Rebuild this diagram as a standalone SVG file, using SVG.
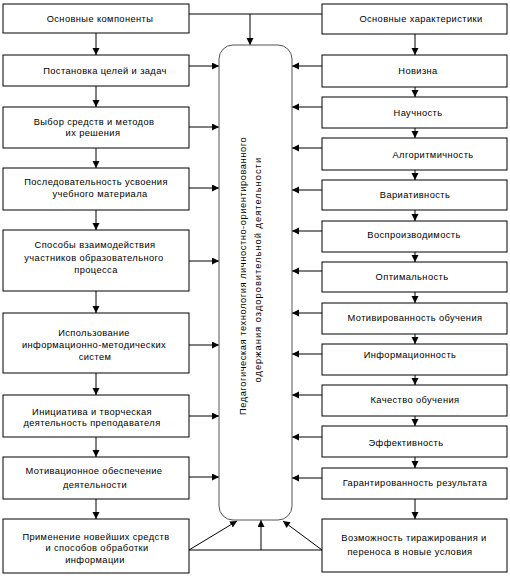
<svg xmlns="http://www.w3.org/2000/svg" width="510" height="585" viewBox="0 0 510 585">
<defs>
<marker id="ah" markerUnits="userSpaceOnUse" markerWidth="8" markerHeight="8" refX="7" refY="3.5" orient="auto">
<path d="M0,0 L7,3.5 L0,7 z" fill="#000"/>
</marker>
</defs>
<style>
rect.b{fill:#fff;stroke:#000;stroke-width:1}
text{font-family:"Liberation Sans",Arial,sans-serif;font-size:9.3px;letter-spacing:0.4px;fill:#000;text-anchor:middle}
.c line,.c path{stroke:#000;stroke-width:1;fill:none}
.a{marker-end:url(#ah)}
.g{stroke:#555 !important}
</style>
<rect width="510" height="585" fill="#fff"/>
<g id="connectors" class="c">
<path d="M189,14 H322"/>
<line class="a" x1="250" y1="14" x2="250" y2="45"/>
<line class="a" x1="96" y1="33" x2="96" y2="55"/>
<line class="a" x1="96" y1="86" x2="96" y2="107"/>
<line class="a" x1="96" y1="148" x2="96" y2="168"/>
<line class="a" x1="96" y1="210" x2="96" y2="230"/>
<line class="a" x1="96" y1="291" x2="96" y2="313"/>
<line class="a" x1="96" y1="373" x2="96" y2="395"/>
<line class="a" x1="96" y1="437" x2="96" y2="457"/>
<line class="a" x1="96" y1="499" x2="96" y2="519"/>
<line class="a" x1="189" y1="66" x2="219" y2="66"/>
<line class="a" x1="189" y1="127" x2="219" y2="127"/>
<line class="a" x1="189" y1="188" x2="219" y2="188"/>
<line class="a" x1="189" y1="261" x2="219" y2="261"/>
<line class="a" x1="189" y1="345" x2="219" y2="345"/>
<line class="a" x1="189" y1="416" x2="219" y2="416"/>
<line class="a" x1="189" y1="477" x2="219" y2="477"/>
<line class="a" x1="415" y1="34" x2="415" y2="55"/>
<line class="a" x1="415" y1="87" x2="415" y2="97"/>
<line class="a" x1="415" y1="128" x2="415" y2="138"/>
<line class="a" x1="415" y1="170" x2="415" y2="180"/>
<line class="a" x1="415" y1="210" x2="415" y2="221"/>
<line class="a" x1="415" y1="252" x2="415" y2="262"/>
<line class="a" x1="415" y1="292" x2="415" y2="303"/>
<line class="a" x1="415" y1="334" x2="415" y2="344"/>
<line class="a" x1="415" y1="375" x2="415" y2="385"/>
<line class="a" x1="415" y1="416" x2="415" y2="426"/>
<line class="a" x1="415" y1="457" x2="415" y2="468"/>
<line class="a" x1="415" y1="499" x2="415" y2="519"/>
<line class="a" x1="322" y1="66" x2="292" y2="66"/>
<line class="a" x1="322" y1="107" x2="292" y2="107"/>
<line class="a" x1="322" y1="148" x2="292" y2="148"/>
<line class="a" x1="322" y1="190" x2="292" y2="190"/>
<line class="a" x1="322" y1="231" x2="292" y2="231"/>
<line class="a" x1="322" y1="271" x2="292" y2="271"/>
<line class="a" x1="322" y1="313" x2="292" y2="313"/>
<line class="a" x1="322" y1="354" x2="292" y2="354"/>
<line class="a" x1="322" y1="395" x2="292" y2="395"/>
<line class="a" x1="322" y1="437" x2="292" y2="437"/>
<line class="a" x1="322" y1="478" x2="292" y2="478"/>
<path d="M189,550 H322"/>
<line class="a" x1="261" y1="550" x2="261" y2="520"/>
<line class="a" x1="189" y1="550" x2="237" y2="521"/>
<line class="a" x1="322" y1="550" x2="283" y2="521"/>
</g>
<g id="center">
<rect x="219" y="45" width="73" height="475" rx="14" fill="#fff" stroke="#555" stroke-width="1"/>
<text transform="translate(245.5,276) rotate(-90)" textLength="278" lengthAdjust="spacing">Педагогическая технология личностно-ориентированного</text>
<text transform="translate(261,270) rotate(-90)" textLength="225" lengthAdjust="spacing">одержания оздоровительной деятельности</text>
</g>
<g id="L1"><rect class="b" x="3" y="4" width="186" height="29"/><text x="100" y="22">Основные  компоненты</text></g>
<g id="L2"><rect class="b" x="3" y="55" width="186" height="31"/><text x="105" y="74">Постановка  целей  и задач</text></g>
<g id="L3"><rect class="b" x="3" y="107" width="186" height="41"/><text x="94" y="125">Выбор  средств  и методов</text><text x="93" y="136">их  решения</text></g>
<g id="L4"><rect class="b" x="3" y="168" width="186" height="42"/><text x="96" y="185">Последовательность усвоения</text><text x="100" y="197">учебного материала</text></g>
<g id="L5"><rect class="b" x="3" y="230" width="186" height="61"/><text x="95" y="248">Способы  взаимодействия</text><text x="94" y="261">участников  образовательного</text><text x="96" y="273">процесса</text></g>
<g id="L6"><rect class="b" x="3" y="313" width="186" height="60"/><text x="94" y="336">Использование</text><text x="94" y="348">информационно-методических</text><text x="95" y="360">систем</text></g>
<g id="L7"><rect class="b" x="3" y="395" width="186" height="42"/><text x="92" y="415">Инициатива  и творческая</text><text x="92" y="426">деятельность  преподавателя</text></g>
<g id="L8"><rect class="b" x="3" y="457" width="186" height="42"/><text x="94" y="474">Мотивационное  обеспечение</text><text x="95" y="488">деятельности</text></g>
<g id="L9"><rect class="b" x="3" y="519" width="186" height="54"/><text x="96" y="540">Применение  новейших  средств</text><text x="97" y="551">и способов  обработки</text><text x="95" y="563">информации</text></g>
<g id="R1"><rect class="b" x="322" y="4" width="185" height="30"/><text x="421" y="22">Основные  характеристики</text></g>
<g id="R2"><rect class="b" x="322" y="55" width="185" height="32"/><text x="418" y="74">Новизна</text></g>
<g id="R3"><rect class="b" x="322" y="97" width="185" height="31"/><text x="418" y="116">Научность</text></g>
<g id="R4"><rect class="b" x="322" y="138" width="185" height="32"/><text x="433" y="158">Алгоритмичность</text></g>
<g id="R5"><rect class="b" x="322" y="180" width="185" height="30"/><text x="415" y="198">Вариативность</text></g>
<g id="R6"><rect class="b" x="322" y="221" width="185" height="31"/><text x="414" y="238">Воспроизводимость</text></g>
<g id="R7"><rect class="b" x="322" y="262" width="185" height="30"/><text x="412" y="280">Оптимальность</text></g>
<g id="R8"><rect class="b" x="322" y="303" width="185" height="31"/><text x="415" y="321">Мотивированность обучения</text></g>
<g id="R9"><rect class="b" x="322" y="344" width="185" height="31"/><text x="410" y="358">Информационность</text></g>
<g id="R10"><rect class="b" x="322" y="385" width="185" height="31"/><text x="415" y="403">Качество  обучения</text></g>
<g id="R11"><rect class="b" x="322" y="426" width="185" height="31"/><text x="406" y="446">Эффективность</text></g>
<g id="R12"><rect class="b" x="322" y="468" width="185" height="31"/><text x="415" y="486">Гарантированность  результата</text></g>
<g id="R13"><rect class="b" x="322" y="519" width="185" height="53"/><text x="414" y="541">Возможность  тиражирования   и</text><text x="410" y="555">переноса  в новые  условия</text></g>
</svg>
